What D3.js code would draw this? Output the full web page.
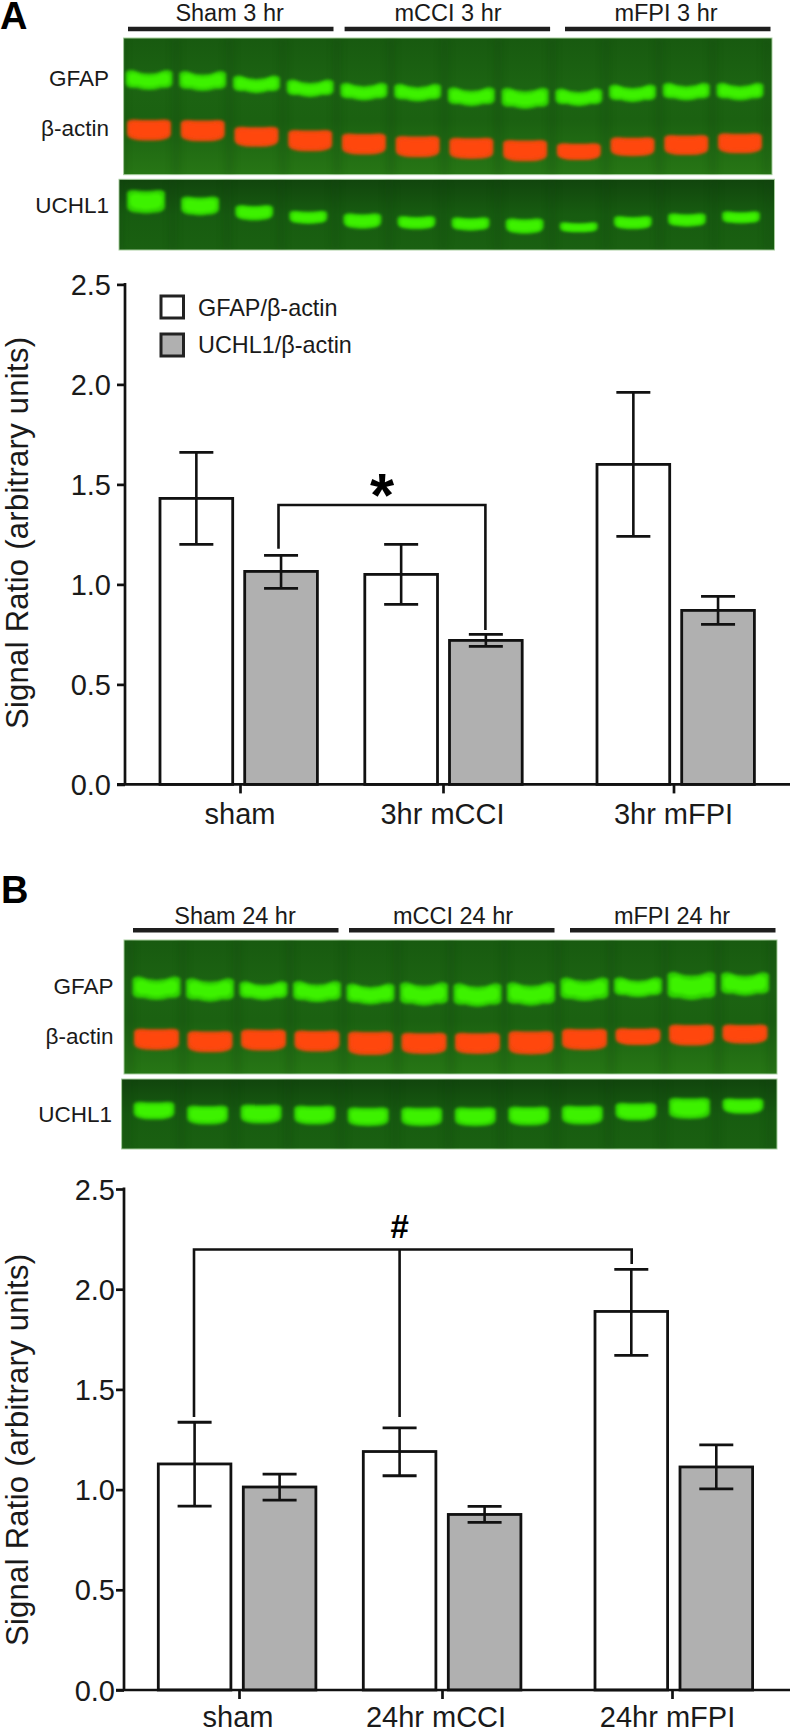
<!DOCTYPE html>
<html><head><meta charset="utf-8">
<script src="https://cdn.jsdelivr.net/npm/d3@7"></script>
<style>html,body{margin:0;padding:0;background:#fff}svg{display:block}text{font-family:"Liberation Sans",Arial,sans-serif;fill:#1a1a1a}</style>
</head><body><svg id="c" width="791" height="1733"></svg>
<script>
const seriesNames = ["GFAP/β-actin", "UCHL1/β-actin"];
const tickValuesY = [0, 0.5, 1, 1.5, 2, 2.5];
const yTitle = "Signal Ratio (arbitrary units)";

const groupsA = ["sham", "3hr mCCI", "3hr mFPI"];
const gfapA = [1.43, 1.05, 1.60];
const gfapLowA = [1.20, 0.90, 1.24];
const gfapHighA = [1.66, 1.20, 1.96];
const uchlA = [1.065, 0.72, 0.87];
const uchlLowA = [0.98, 0.69, 0.80];
const uchlHighA = [1.145, 0.75, 0.94];

const groupsB = ["sham", "24hr mCCI", "24hr mFPI"];
const gfapB = [1.128, 1.19, 1.889];
const gfapLowB = [0.918, 1.069, 1.67];
const gfapHighB = [1.336, 1.308, 2.099];
const uchlB = [1.013, 0.876, 1.113];
const uchlLowB = [0.947, 0.836, 1.004];
const uchlHighB = [1.077, 0.916, 1.223];

const blotHeadA = ["Sham 3 hr", "mCCI 3 hr", "mFPI 3 hr"];
const blotHeadB = ["Sham 24 hr", "mCCI 24 hr", "mFPI 24 hr"];
const blotRows = ["GFAP", "β-actin", "UCHL1"];

// band migration and thickness read per lane from the blots
const gfapRunA = [42,43,46.3,50.3,53.7,54.7,58.7,60.3,59.3,55.3,53.7,53.7];
const gfapThickA = [17,17,15,15,15,15,16,18,15,15,15,15];
const actinRunA = [92,92.7,98.7,102.7,106,108.7,110.3,112.7,113.7,108.7,107,105.3];
const actinThickA = [18,18,17,18,18,18,18,18,14,16,17,17];
const uchlRunA = [22.4,26.7,33.4,38,41.7,43.4,44.7,46.7,48,43.4,40.7,38];
const uchlThickA = [20,16,13,11,13,11,11,13,8,11,11,10];
const gfapRunB = [48.3,50,50.7,51.7,54,54,55,54,49.3,47.3,46,44];
const gfapThickB = [20,20,16,18,18,20,20,20,20,17,24,20];
const actinRunB = [99.3,101.7,100,101,103.3,103.3,103.3,102.7,99.3,96.7,95,94];
const actinThickB = [18,18,18,18,20,18,18,20,18,14,18,16];
const uchlRunB = [31.7,36,35,36,37.7,37.7,37.7,37,36,32.7,29.3,27];
const uchlThickB = [15,16,16,16,16,16,16,16,16,15,18,13];

const svg = d3.select("#c");
const defs = svg.append("defs");
defs.append("filter").attr("id","blur").attr("x","-30%").attr("y","-60%").attr("width","160%").attr("height","220%")
  .append("feGaussianBlur").attr("stdDeviation",1.6);
defs.append("filter").attr("id","soft").attr("x","-100%").attr("width","300%")
  .append("feGaussianBlur").attr("stdDeviation",3.5);
function grad(id, stops){
  const g = defs.append("linearGradient").attr("id",id).attr("x1",0).attr("x2",0).attr("y1",0).attr("y2",1);
  stops.forEach(s=>g.append("stop").attr("offset",s[0]).attr("stop-color",s[1]));
}
grad("gelTop",[[0,"#185a10"],[0.35,"#1c6412"],[0.6,"#1b6111"],[1,"#277615"]]);
grad("gelLow",[[0,"#11450d"],[0.5,"#175c10"],[1,"#1a6011"]]);

function bandPath(cx, cy, w, h, arch){
  const x0=cx-w/2,x1=cx+w/2,t=cy-h/2,b=cy+h/2,r=Math.min(h*0.45,7);
  return `M${x0},${t+r*.5}Q${x0},${t} ${x0+r},${t}Q${cx},${t+arch} ${x1-r},${t}Q${x1},${t} ${x1},${t+r*.5}L${x1},${b-r}Q${x1},${b-r*.2} ${x1-r*1.6},${b-arch*.3}Q${cx},${b+arch*.3} ${x0+r*1.6},${b-arch*.3}Q${x0},${b-r*.2} ${x0},${b-r}Z`;
}
function gelPanel(p){
  const g = svg.append("g");
  g.append("rect").attr("x",p.x0).attr("y",p.y0).attr("width",p.x1-p.x0).attr("height",p.y1-p.y0)
    .attr("fill",`url(#${p.fill})`).attr("stroke","#a9cfa0").attr("stroke-width",1);
  const clipId = "clip"+p.id;
  defs.append("clipPath").attr("id",clipId).append("rect").attr("x",p.x0).attr("y",p.y0).attr("width",p.x1-p.x0).attr("height",p.y1-p.y0);
  const inner = g.append("g").attr("clip-path",`url(#${clipId})`);
  const lane = d3.scaleLinear().domain([0,11]).range(p.lanes);
  const run = d3.scaleLinear().domain([0,p.y1-p.y0]).range([p.y0,p.y1]);
  inner.selectAll("rect.gap").data(d3.range(13)).join("rect").attr("class","gap")
    .attr("x",d=>lane(d-0.5)-4).attr("y",p.y0).attr("width",8).attr("height",p.y1-p.y0)
    .attr("fill","#0c3d08").attr("opacity",.2).attr("filter","url(#soft)");
  p.bands.forEach(bd=>{
    const bg = inner.append("g");
    bg.selectAll("path.halo").data(bd.run).join("path").attr("class","halo")
      .attr("d",(d,i)=>bandPath(lane(i),run(d),bd.w+3,bd.thick[i]*1.12+1,bd.arch))
      .attr("fill",bd.edge).attr("filter","url(#blur)");
    bg.selectAll("path.core").data(bd.run).join("path").attr("class","core")
      .attr("d",(d,i)=>bandPath(lane(i),run(d),bd.w-3,bd.thick[i]*0.8,bd.arch))
      .attr("fill",bd.core).attr("filter","url(#blur)");
  });
}
const GREEN={core:"#3cf200",edge:"#2fd000"}, RED={core:"#ff4610",edge:"#f04a10"};

function blot(b){
  const head = svg.append("g");
  head.selectAll("line").data(b.head).join("line")
    .attr("x1",(d,i)=>b.barX[i]).attr("x2",(d,i)=>b.barX[i]+b.barLen)
    .attr("y1",b.barY).attr("y2",b.barY).attr("stroke","#1e1e1e").attr("stroke-width",4.5);
  head.selectAll("text").data(b.head).join("text")
    .attr("x",(d,i)=>b.headX[i]).attr("y",b.headBase).attr("text-anchor","middle")
    .attr("font-size",23.5).text(d=>d);
  svg.append("g").selectAll("text").data(blotRows).join("text")
    .attr("x",(d,i)=>b.rowX[i]).attr("y",(d,i)=>b.rowBase[i]).attr("text-anchor","end")
    .attr("font-size",22.5).text(d=>d);
  gelPanel(b.top); gelPanel(b.low);
  svg.append("text").attr("x",b.letterX).attr("y",b.letterY).attr("font-size",38).attr("font-weight","bold")
    .style("fill","#000").text(b.letter);
}
blot({letter:"A",letterX:0,letterY:29,head:blotHeadA,barX:[128,344.6,565],barLen:205.5,barY:29,headX:[229.6,448,666],headBase:21,
  rowX:[109,109,109],rowBase:[86,136,213],
  top:{id:"at",x0:123.6,x1:772,y0:38,y1:174.7,fill:"gelTop",lanes:[149,740],bands:[
    {run:gfapRunA,thick:gfapThickA,w:44,arch:7,core:GREEN.core,edge:GREEN.edge},
    {run:actinRunA,thick:actinThickA,w:41,arch:1,core:RED.core,edge:RED.edge}]},
  low:{id:"al",x0:119,x1:774.5,y0:179.3,y1:250,fill:"gelLow",lanes:[146,741],bands:[
    {run:uchlRunA,thick:uchlThickA,w:35,arch:2,core:GREEN.core,edge:GREEN.edge}]}});
blot({letter:"B",letterX:1,letterY:903,head:blotHeadB,barX:[133,349,570],barLen:205.5,barY:930.3,headX:[235,453,672],headBase:924,
  rowX:[113.5,113.5,112],rowBase:[994,1044,1122],
  top:{id:"bt",x0:124,x1:777,y0:940,y1:1074,fill:"gelTop",lanes:[156.5,745],bands:[
    {run:gfapRunB,thick:gfapThickB,w:45,arch:7,core:GREEN.core,edge:GREEN.edge},
    {run:actinRunB,thick:actinThickB,w:42,arch:1,core:RED.core,edge:RED.edge}]},
  low:{id:"bl",x0:121.6,x1:777,y0:1079,y1:1149,fill:"gelLow",lanes:[154,743],bands:[
    {run:uchlRunB,thick:uchlThickB,w:38,arch:1,core:GREEN.core,edge:GREEN.edge}]}});

function chart(c){
  const y = d3.scaleLinear().domain([0,2.5]).range([c.y0,c.y1]);
  const xBar = d3.scaleOrdinal().domain(c.groups).range(c.groupLeft);
  const series = d3.scaleBand().domain([0,1]).range([0,c.barW*2+c.barGap]).paddingInner(c.barGap/(c.barW+c.barGap)).paddingOuter(0);
  const g = svg.append("g");
  const bars = [
    {v:c.gfap,lo:c.gfapLow,hi:c.gfapHigh,fill:"#fff",s:0},
    {v:c.uchl,lo:c.uchlLow,hi:c.uchlHigh,fill:"#b0b0b0",s:1}];
  bars.forEach(sr=>{
    const sg = g.append("g");
    sg.selectAll("rect").data(c.groups).join("rect")
      .attr("x",d=>xBar(d)+series(sr.s)).attr("width",series.bandwidth())
      .attr("y",(d,i)=>y(sr.v[i])).attr("height",(d,i)=>y(0)-y(sr.v[i]))
      .attr("fill",sr.fill).attr("stroke","#111").attr("stroke-width",2.8);
    const cx = d=>xBar(d)+series(sr.s)+series.bandwidth()/2;
    sg.selectAll("line.stem").data(c.groups).join("line").attr("class","stem")
      .attr("x1",cx).attr("x2",cx).attr("y1",(d,i)=>y(sr.lo[i])).attr("y2",(d,i)=>y(sr.hi[i]))
      .attr("stroke","#111").attr("stroke-width",2.6);
    ["lo","hi"].forEach(k=>{
      sg.selectAll("line.cap"+k).data(c.groups).join("line").attr("class","cap"+k)
        .attr("x1",d=>cx(d)-17).attr("x2",d=>cx(d)+17)
        .attr("y1",(d,i)=>y(sr[k][i])).attr("y2",(d,i)=>y(sr[k][i]))
        .attr("stroke","#111").attr("stroke-width",2.8);
    });
  });
  const yAxis = d3.axisLeft(y).tickValues(tickValuesY).tickFormat(d3.format(".1f")).tickSize(8).tickPadding(c.yPad).tickSizeOuter(0);
  const ya = g.append("g").attr("transform",`translate(${c.axisX},0)`).call(yAxis);
  const xTick = d3.scaleOrdinal().domain(c.groups).range(c.tickX);
  const xa = g.append("g").attr("transform",`translate(0,${c.y0})`).call(d3.axisBottom(xTick).tickSize(9).tickSizeOuter(0).tickFormat(""));
  [ya,xa].forEach(a=>{a.selectAll("line,path").attr("stroke","#111").attr("stroke-width",2.7);});
  xa.select("path.domain").attr("d",`M${c.axisX-8},0H790`);
  ya.select("path.domain").attr("d",`M0,${c.y1-1.4}V${c.y0}`);
  ya.selectAll("text").attr("font-size",29).attr("dy",".35em").style("font-family",'"Liberation Sans"');
  g.selectAll("text.xl").data(c.groups).join("text").attr("class","xl")
    .attr("x",(d,i)=>c.labelX[i]).attr("y",c.labelBase).attr("text-anchor","middle").attr("font-size",29).text(d=>d);
  g.append("text").attr("transform",`translate(${c.titleX},${c.titleY}) rotate(-90)`)
    .attr("text-anchor","middle").attr("font-size",31).attr("textLength",392).text(yTitle);
  c.bracket.forEach(seg=>g.append("path").attr("fill","none").attr("stroke","#111").attr("stroke-width",2.6).attr("d",d3.line()(seg)));
  g.append("text").attr("x",c.mark.x).attr("y",c.mark.y).attr("text-anchor","middle").attr("font-weight","bold")
    .attr("font-size",c.mark.size).style("fill","#000").text(c.mark.t);
}
chart({groups:groupsA,gfap:gfapA,gfapLow:gfapLowA,gfapHigh:gfapHighA,uchl:uchlA,uchlLow:uchlLowA,uchlHigh:uchlHighA,
  y0:784.4,y1:284.4,axisX:125,groupLeft:[160,364.8,597],barW:72.7,barGap:12,tickX:[240,443,673.5],labelX:[240,442.5,673.5],labelBase:824,yPad:6,
  titleX:28.2,titleY:533,
  bracket:[[[278.5,548.7],[278.5,505],[485.4,505],[485.4,630]]],mark:{x:382,y:516,size:62,t:"*"}});
chart({groups:groupsB,gfap:gfapB,gfapLow:gfapLowB,gfapHigh:gfapHighB,uchl:uchlB,uchlLow:uchlLowB,uchlHigh:uchlHighB,
  y0:1690,y1:1189,axisX:124,groupLeft:[158.3,363.3,595],barW:72.6,barGap:12.4,tickX:[239,442,672],labelX:[238,436,667.5],labelBase:1727,yPad:1,
  titleX:28.2,titleY:1450,
  bracket:[[[194,1417],[194,1249.5],[631.7,1249.5],[631.7,1264]],[[399.6,1249.5],[399.6,1417]]],mark:{x:399.6,y:1238,size:33,t:"#"}});

// legend
const legend = svg.append("g");
legend.selectAll("rect").data(seriesNames).join("rect")
  .attr("x",161).attr("y",(d,i)=>[296,334][i]).attr("width",22.5).attr("height",22)
  .attr("fill",(d,i)=>["#fff","#b0b0b0"][i]).attr("stroke","#222").attr("stroke-width",3);
legend.selectAll("text").data(seriesNames).join("text")
  .attr("x",198).attr("y",(d,i)=>[315.5,352.5][i]).attr("font-size",23.4).text(d=>d);
</script></body></html>
